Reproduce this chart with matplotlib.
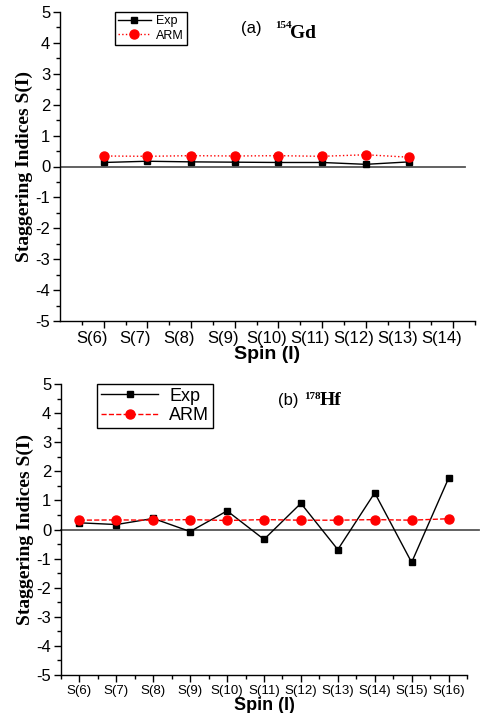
import matplotlib
matplotlib.use("Agg")
import matplotlib.pyplot as plt
import matplotlib.transforms as mtransforms
import numpy as np

plt.rcParams["axes.unicode_minus"] = False

#===Data===#
SPIN_A = [6, 7, 8, 9, 10, 11, 12, 13]
EXP_A = [0.13, 0.17, 0.15, 0.14, 0.13, 0.13, 0.07, 0.15]
ARM_A = [0.34, 0.33, 0.35, 0.34, 0.35, 0.33, 0.38, 0.30]
TICKS_A = list(range(6, 15))

SPIN_B = [6, 7, 8, 9, 10, 11, 12, 13, 14, 15, 16]
EXP_B = [0.23, 0.17, 0.38, -0.07, 0.64, -0.34, 0.90, -0.69, 1.26, -1.13, 1.76]
ARM_B = [0.32, 0.33, 0.32, 0.34, 0.31, 0.34, 0.32, 0.32, 0.34, 0.32, 0.37]
TICKS_B = list(range(6, 17))

SANS = "Liberation Sans"
SERIF = "Liberation Serif"

W, H = 487, 713
fig = plt.figure(figsize=(W / 100, H / 100), dpi=100)


def px_box(left, top, right, bottom):
    return [left / W, 1 - bottom / H, (right - left) / W, (bottom - top) / H]


def style_axes(ax, ticks, xlim, tick_fs, shift_px):
    ax.set_xlim(*xlim)
    ax.set_ylim(-5, 5)
    ax.set_yticks(range(-5, 6))
    ax.set_yticks(np.arange(-4.5, 5, 1), minor=True)
    ax.set_xticks(ticks)
    ax.set_xticks(np.arange(ticks[0] - 0.5, ticks[-1] + 0.6, 1), minor=True)
    ax.set_xticklabels([f"S({t})" for t in ticks], fontsize=tick_fs, family=SANS)
    for lab in ax.get_yticklabels():
        lab.set_fontsize(12)
        lab.set_family(SANS)
    ax.spines["top"].set_visible(False)
    ax.spines["right"].set_visible(False)
    for s in ("left", "bottom"):
        ax.spines[s].set_linewidth(1.0)
    ax.tick_params(which="major", direction="out", length=5, width=1, pad=2)
    ax.tick_params(which="minor", direction="out", length=3, width=1)
    if shift_px:
        off = mtransforms.ScaledTranslation(shift_px / 100, 0, fig.dpi_scale_trans)
        for lab in ax.get_xticklabels():
            lab.set_transform(lab.get_transform() + off)
    ax.set_ylabel("Staggering Indices S(I)", family=SERIF, fontweight="bold",
                  fontsize=14, labelpad=2)


#===Panel (a)===#
ax1 = fig.add_axes(px_box(60, 12, 475, 321))
ax1.axhline(0, xmin=0, xmax=0.976, color="#555555", lw=1.3, zorder=1)
ax1.plot(SPIN_A, EXP_A, color="black", lw=1.0, marker="s", ms=5, label="Exp", zorder=3)
ax1.plot(SPIN_A, ARM_A, color="red", lw=1.0, ls=":", marker="o", ms=6.5, label="ARM", zorder=4)
style_axes(ax1, TICKS_A, (5, 14), 12, -12)
ax1.set_xlabel("Spin (I)", family=SANS, fontweight="bold", fontsize=14, labelpad=0)
leg1 = ax1.legend(loc="upper left", bbox_to_anchor=(115 / W, 1 - 12 / H),
                  bbox_transform=fig.transFigure, prop={"family": SANS, "size": 9},
                  fancybox=False, edgecolor="black", framealpha=1,
                  handlelength=2.6, handletextpad=0.4, borderpad=0.25,
                  labelspacing=0.2, borderaxespad=0)
leg1.get_frame().set_linewidth(1.0)

fig.text(241 / W, 1 - 33 / H, "(a)", family=SANS, fontsize=12, va="baseline")
fig.text(275 / W, 1 - 28 / H, "154", family=SERIF, fontweight="bold", fontsize=8, va="baseline")
fig.text(290 / W, 1 - 38 / H, "Gd", family=SERIF, fontweight="bold", fontsize=14, va="baseline")

#===Panel (b)===#
ax2 = fig.add_axes(px_box(61, 384, 467, 675))
ax2.axhline(0, xmin=0, xmax=1.03, color="#555555", lw=1.3, zorder=1, clip_on=False)
ax2.plot(SPIN_B, EXP_B, color="black", lw=1.0, marker="s", ms=5, label="Exp", zorder=3)
ax2.plot(SPIN_B, ARM_B, color="red", lw=1.0, ls="--", marker="o", ms=6.5, label="ARM", zorder=4)
style_axes(ax2, TICKS_B, (5.5, 16.5), 9.5, 0)
ax2.set_xlabel("Spin (I)", family=SANS, fontweight="bold", fontsize=13, labelpad=0)
leg2 = ax2.legend(loc="upper left", bbox_to_anchor=(97 / W, 1 - 384 / H),
                  bbox_transform=fig.transFigure, prop={"family": SANS, "size": 13},
                  fancybox=False, edgecolor="black", framealpha=1,
                  handlelength=3.2, handletextpad=0.6, borderpad=0.2,
                  labelspacing=0.15, borderaxespad=0)
leg2.get_frame().set_linewidth(1.0)

fig.text(278 / W, 1 - 405 / H, "(b)", family=SANS, fontsize=12, va="baseline")
fig.text(304 / W, 1 - 399 / H, "178", family=SERIF, fontweight="bold", fontsize=8, va="baseline")
fig.text(320 / W, 1 - 405 / H, "Hf", family=SERIF, fontweight="bold", fontsize=14, va="baseline")

fig.savefig("out.png", dpi=100)
